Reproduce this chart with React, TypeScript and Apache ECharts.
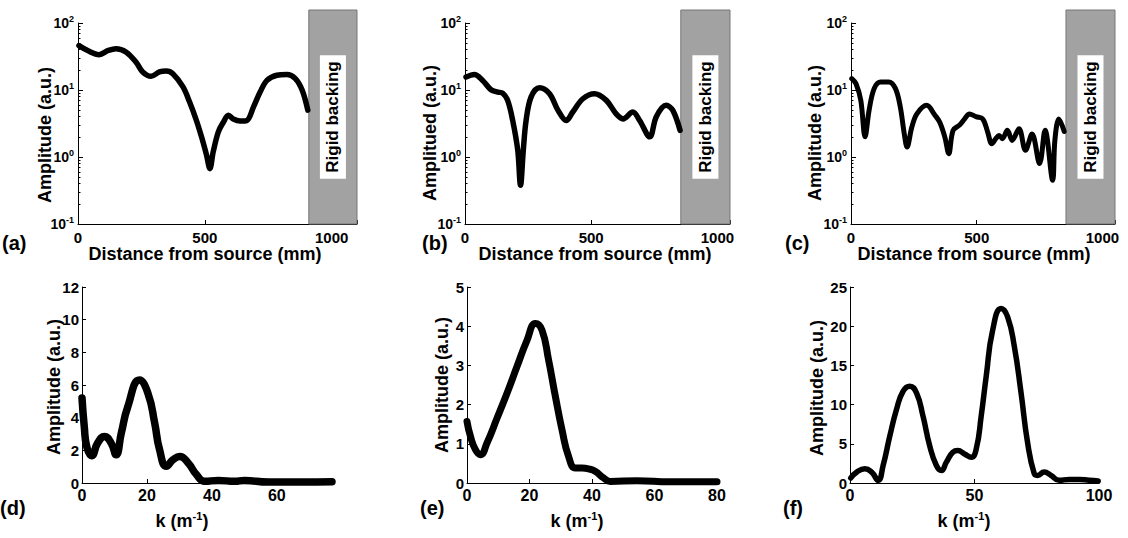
import React, { useEffect, useRef } from 'react';
import * as echarts from 'echarts';

const FONT = '"Liberation Sans", Arial, Helvetica, sans-serif';

// ---- Data: panel (a) ----
const distA = [4, 40, 83, 120, 150, 189, 229, 255, 288, 321, 348, 374, 414, 440, 467, 487, 507, 520, 533, 553, 573, 593, 612, 639, 665, 692, 718, 745, 784, 824, 857, 884, 906];
const ampA = [46, 38.5, 33.7, 39, 41.4, 37, 26, 18.6, 16, 18.6, 19.2, 17.5, 11.1, 6.6, 3.5, 2.0, 1.06, 0.67, 1.19, 2.36, 3.3, 4.2, 3.7, 3.44, 3.5, 5.6, 9.3, 13.9, 16.6, 17.1, 14.8, 9.9, 5.0];
// ---- panel (b) ----
const distB = [4, 37, 70, 103, 130, 149, 169, 189, 209, 220, 231, 242, 262, 295, 335, 368, 401, 427, 467, 513, 560, 599, 626, 665, 692, 732, 758, 797, 823, 852];
const ampB = [15.6, 17.1, 13.9, 10.1, 9.3, 9.0, 7.0, 3.5, 1.26, 0.38, 1.26, 3.5, 7.9, 10.8, 8.8, 5.0, 3.5, 4.7, 7.4, 8.8, 7.0, 4.4, 3.7, 4.7, 3.5, 2.0, 4.0, 5.9, 5.0, 2.5];
// ---- panel (c) ----
const distC = [3, 20, 39, 56, 72, 92, 118, 150, 177, 196, 212, 223, 242, 262, 301, 334, 353, 373, 389, 406, 432, 452, 471, 497, 524, 543, 560, 576, 589, 602, 622, 641, 668, 694, 720, 750, 772, 802, 811, 827, 848];
const ampC = [14.8, 12.4, 7.0, 2.0, 5.0, 10.5, 13.2, 13.2, 10.5, 5.6, 2.2, 1.41, 2.8, 4.4, 5.9, 4.2, 3.3, 2.0, 1.12, 2.5, 3.0, 3.7, 4.4, 4.0, 3.7, 2.4, 1.58, 1.88, 2.1, 1.88, 2.5, 1.77, 2.65, 1.26, 2.2, 0.8, 2.5, 0.45, 1.8, 3.7, 2.4];
// ---- panel (d) ----
const kD = [0, 0.7, 1.5, 3.0, 4.8, 6.9, 9.0, 10.5, 12.1, 14.1, 17.7, 20.3, 22.4, 23.9, 26, 28, 30.1, 32.7, 35.3, 37.8, 42, 47, 50, 57.4, 67.7, 77];
const ampD = [5.2, 3.45, 2.2, 1.67, 2.44, 2.85, 2.44, 1.73, 3.05, 4.67, 6.3, 5.5, 3.66, 2.03, 1.02, 1.42, 1.63, 1.22, 0.5, 0.1, 0.16, 0.1, 0.16, 0.06, 0.06, 0.08];
// ---- panel (e) ----
const kE = [0, 1.1, 2.7, 4.3, 6.4, 9.6, 12.8, 16, 19.2, 21.9, 24, 26.1, 28.3, 30.4, 32.5, 34.7, 36.8, 38.9, 41, 43.7, 45.9, 54.4, 65, 80];
const ampE = [1.57, 1.19, 0.85, 0.72, 1.02, 1.65, 2.29, 2.97, 3.64, 4.07, 3.9, 3.14, 2.2, 1.36, 0.68, 0.38, 0.38, 0.36, 0.3, 0.13, 0.04, 0.06, 0.03, 0.03];
// ---- panel (f) ----
const kF = [0.3, 2.7, 6, 8.7, 11.3, 13.3, 16, 18.7, 21.3, 24, 26.7, 29.3, 32, 34.7, 36.7, 38.7, 41.3, 43.3, 46, 48.7, 50.7, 52.7, 54.7, 57.3, 60.7, 63.3, 66, 68.7, 71.3, 74, 75.3, 78, 80.7, 84, 88, 92, 96, 99.7];
const ampF = [0.63, 1.39, 1.81, 1.39, 0.34, 2.23, 6.0, 9.4, 11.7, 12.35, 11.5, 8.56, 4.76, 2.23, 1.6, 2.66, 3.92, 4.13, 3.71, 3.29, 4.34, 8.56, 13.6, 19.5, 22.26, 21.2, 17.4, 11.5, 5.19, 1.18, 0.97, 1.39, 0.97, 0.34, 0.46, 0.46, 0.34, 0.25];

// ---- Tick labels / annotations ----
const distTicks = [0, 500, 1000];
const logMinorTicks = [0.2, 0.3, 0.4, 0.5, 0.6, 0.7, 0.8, 0.9, 2, 3, 4, 5, 6, 7, 8, 9, 20, 30, 40, 50, 60, 70, 80, 90];
const kTicksD = [0, 20, 40, 60];
const kTicksE = [0, 20, 40, 60, 80];
const kTicksF = [0, 50, 100];
const backingA = [910, 1100];
const backingB = [855, 1050];
const backingC = [855, 1050];
const panelLetters = ['(a)', '(b)', '(c)', '(d)', '(e)', '(f)'];
const yTitles = ['Amplitude (a.u.)', 'Amplitued (a.u.)', 'Amplitude (a.u.)', 'Amplitude (a.u.)', 'Amplitude (a.u.)', 'Amplitude (a.u.)'];
const distTitle = 'Distance from source (mm)';
const backingLabel = 'Rigid backing';

const topPanels = [
  { left: 78, width: 279, xMax: 1100, xs: distA, ys: ampA, backing: backingA, lw: 5.5 },
  { left: 465, width: 265, xMax: 1050, xs: distB, ys: ampB, backing: backingB, lw: 5.5 },
  { left: 851, width: 264, xMax: 1050, xs: distC, ys: ampC, backing: backingC, lw: 5 },
];
const bottomPanels = [
  { left: 82, width: 250, xMax: 77, xInt: 20, ticks: kTicksD, yMax: 12, yInt: 2, xs: kD, ys: ampD, lw: 7.5 },
  { left: 467, width: 250, xMax: 80, xInt: 20, ticks: kTicksE, yMax: 5, yInt: 1, xs: kE, ys: ampE, lw: 7 },
  { left: 850, width: 249, xMax: 100, xInt: 50, ticks: kTicksF, yMax: 25, yInt: 5, xs: kF, ys: ampF, lw: 5.5 },
];

const TOP_Y = 23, TOP_H = 201;
const BOT_Y = 287, BOT_H = 196;

function buildOption() {
  const grid: any[] = [];
  const xAxis: any[] = [];
  const yAxis: any[] = [];
  const series: any[] = [];
  const axisLineStyle = { color: '#000', width: 1 };
  const tick = { show: true, inside: true, length: 4, lineStyle: { color: '#000', width: 1 } };

  topPanels.forEach((p) => {
    // backing rectangle grid (extends above the axes)
    const gb = grid.length;
    grid.push({ left: p.left, top: 10, width: p.width, height: TOP_Y + TOP_H - 10 });
    xAxis.push({ type: 'value', gridIndex: gb, min: 0, max: p.xMax, show: false });
    yAxis.push({ type: 'value', gridIndex: gb, min: 0, max: 1, show: false });
    series.push({
      type: 'line', xAxisIndex: xAxis.length - 1, yAxisIndex: yAxis.length - 1, data: [], silent: true,
      markArea: {
        silent: true,
        itemStyle: { color: '#a2a2a2', borderColor: '#777', borderWidth: 1 },
        label: {
          show: true, position: 'inside', formatter: backingLabel, rotate: 90,
          color: '#000', fontSize: 17, fontWeight: 'bold', fontFamily: FONT,
          backgroundColor: '#fff', padding: [5, 6, 4, 6],
        },
        data: [[{ xAxis: p.backing[0], yAxis: 0 }, { xAxis: p.backing[1], yAxis: 1 }]],
      },
    });

    const g = grid.length;
    grid.push({ left: p.left, top: TOP_Y, width: p.width, height: TOP_H });
    xAxis.push({
      type: 'value', gridIndex: g, min: 0, max: p.xMax, interval: 500,
      axisLine: { show: true, onZero: false, lineStyle: axisLineStyle },
      axisTick: tick, splitLine: { show: false },
      axisLabel: {
        margin: 6, color: '#000', fontSize: 15, fontWeight: 'bold', fontFamily: FONT,
        formatter: (v: number) => (distTicks.includes(v) ? String(v) : ''),
      },
    });
    const xi = xAxis.length - 1;
    yAxis.push({
      type: 'log', logBase: 10, gridIndex: g, min: 0.1, max: 100, position: 'left',
      axisLine: { show: true, onZero: false, lineStyle: axisLineStyle },
      axisTick: { ...tick, length: 5 }, splitLine: { show: false }, minorTick: { show: false },
      axisLabel: {
        margin: 4,
        formatter: (v: number) => `{b|10}{s|${Math.round(Math.log10(v))}}`,
        rich: {
          b: { fontSize: 14, fontWeight: 'bold', fontFamily: FONT, color: '#000', lineHeight: 18 },
          s: { fontSize: 9, fontWeight: 'bold', fontFamily: FONT, color: '#000', verticalAlign: 'top' },
        },
      },
    });
    const yi = yAxis.length - 1;
    // minor log ticks
    yAxis.push({
      type: 'log', logBase: 10, gridIndex: g, min: 0.1, max: 100, position: 'left',
      axisLine: { show: false }, axisLabel: { show: false }, splitLine: { show: false },
      axisTick: { show: true, inside: true, length: 2.5, customValues: logMinorTicks, lineStyle: { color: '#000', width: 1 } },
    });
    series.push({
      type: 'line', xAxisIndex: xi, yAxisIndex: yi, symbol: 'none', showSymbol: false,
      smooth: 0.35, clip: false, silent: true,
      lineStyle: { color: '#000', width: p.lw, cap: 'round', join: 'round' },
      data: p.xs.map((x, i) => [x, p.ys[i]]),
    });
  });

  bottomPanels.forEach((p) => {
    const g = grid.length;
    grid.push({ left: p.left, top: BOT_Y, width: p.width, height: BOT_H });
    xAxis.push({
      type: 'value', gridIndex: g, min: 0, max: p.xMax, interval: p.xInt,
      axisLine: { show: true, onZero: false, lineStyle: axisLineStyle },
      axisTick: tick, splitLine: { show: false },
      axisLabel: {
        margin: 4, color: '#000', fontSize: 16, fontWeight: 'bold', fontFamily: FONT,
        formatter: (v: number) => (p.ticks.includes(v) ? String(v) : ''),
      },
    });
    const xi = xAxis.length - 1;
    yAxis.push({
      type: 'value', gridIndex: g, min: 0, max: p.yMax, interval: p.yInt,
      axisLine: { show: true, onZero: false, lineStyle: axisLineStyle },
      axisTick: tick, splitLine: { show: false },
      axisLabel: { margin: 3, color: '#000', fontSize: 15, fontWeight: 'bold', fontFamily: FONT },
    });
    const yi = yAxis.length - 1;
    series.push({
      type: 'line', xAxisIndex: xi, yAxisIndex: yi, symbol: 'none', showSymbol: false,
      smooth: 0.5, clip: false, silent: true,
      lineStyle: { color: '#000', width: p.lw, cap: 'round', join: 'round' },
      data: p.xs.map((x, i) => [x, p.ys[i]]),
    });
  });

  const titleFont = `bold 18px ${FONT}`;
  const letterPos = [[2, 243], [422, 243], [785, 243], [0, 508], [420, 508], [783, 508]];
  const yTitlePos = [[45, 135], [430, 133], [815, 133], [54, 387], [442, 385], [817, 388]];
  const distTitlePos = [[205, 254], [595, 254], [974, 254]];
  const kTitlePos = [[182, 521], [577, 521], [964, 521]];

  const graphic: any[] = [];
  panelLetters.forEach((t, i) => {
    graphic.push({
      type: 'text', x: letterPos[i][0], y: letterPos[i][1], silent: true,
      style: { text: t, font: `bold 20px ${FONT}`, fill: '#000', align: 'left', verticalAlign: 'middle' },
    });
  });
  yTitles.forEach((t, i) => {
    graphic.push({
      type: 'text', x: yTitlePos[i][0], y: yTitlePos[i][1], rotation: Math.PI / 2, silent: true,
      style: { text: t, font: titleFont, fill: '#000', align: 'center', verticalAlign: 'middle' },
    });
  });
  distTitlePos.forEach((pos) => {
    graphic.push({
      type: 'text', x: pos[0], y: pos[1], silent: true,
      style: { text: distTitle, font: titleFont, fill: '#000', align: 'center', verticalAlign: 'middle' },
    });
  });
  kTitlePos.forEach((pos) => {
    graphic.push({
      type: 'text', x: pos[0], y: pos[1], silent: true,
      style: {
        text: '{a|k (m}{s|-1}{a|)}', align: 'center', verticalAlign: 'middle', fill: '#000',
        rich: {
          a: { fontSize: 18, fontWeight: 'bold', fontFamily: FONT, fill: '#000', lineHeight: 22 },
          s: { fontSize: 11, fontWeight: 'bold', fontFamily: FONT, fill: '#000', verticalAlign: 'top' },
        },
      },
    });
  });

  return {
    animation: false,
    backgroundColor: '#fff',
    textStyle: { fontFamily: FONT },
    grid, xAxis, yAxis, series, graphic,
  };
}

export default function App() {
  const ref = useRef<HTMLDivElement>(null);
  useEffect(() => {
    if (!ref.current) return;
    const chart = echarts.init(ref.current, undefined, { renderer: 'svg' });
    chart.setOption(buildOption() as any);
    return () => chart.dispose();
  }, []);
  return (
    <div
      ref={ref}
      style={{ position: 'absolute', left: 0, top: 0, width: 1128, height: 538, background: '#fff' }}
    />
  );
}
